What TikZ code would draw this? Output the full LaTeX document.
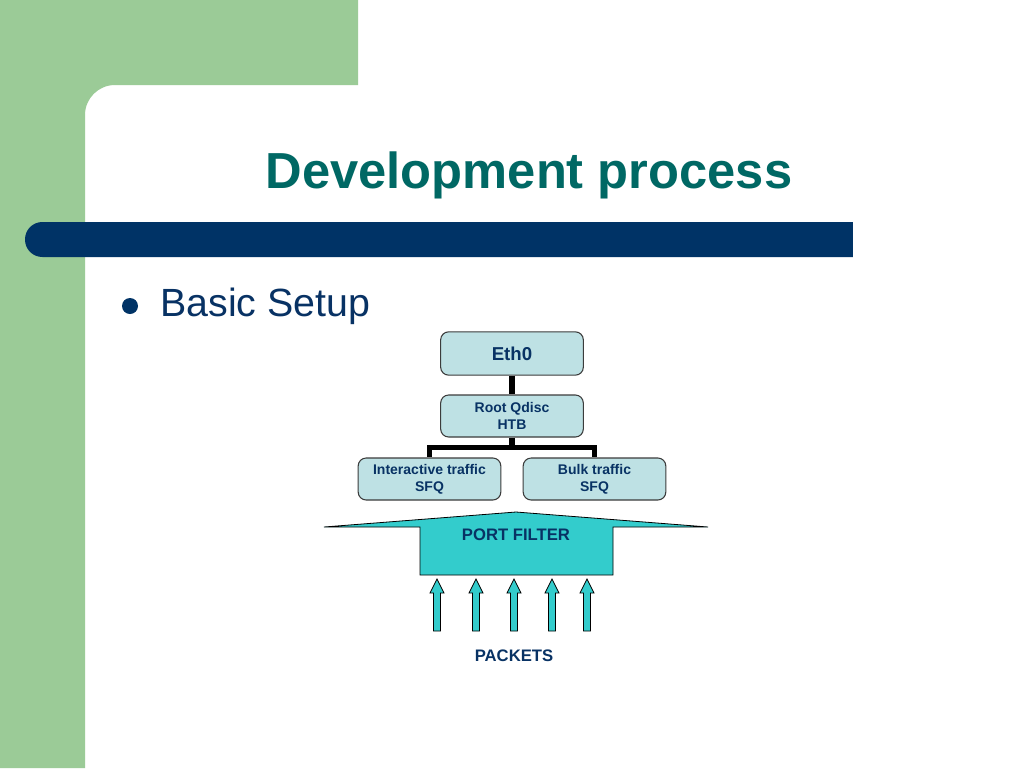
\documentclass[tikz,border=0pt]{standalone}
\usepackage{fontspec}
\setmainfont{Liberation Sans}
\usetikzlibrary{calc}
\definecolor{bggreen}{RGB}{155,203,151}
\definecolor{barnavy}{RGB}{0,51,102}
\definecolor{titleteal}{RGB}{0,104,100}
\definecolor{txtnavy}{RGB}{8,50,100}
\definecolor{boxfill}{RGB}{190,225,228}
\definecolor{turq}{RGB}{51,204,204}
\definecolor{boxline}{RGB}{60,60,60}
\tikzset{
  qbox/.style={draw=boxline, line width=0.8pt, fill=boxfill, rounded corners=6pt,
    minimum width=107pt, minimum height=31.5pt, inner sep=0pt, align=center,
    text=txtnavy, font=\bfseries\fontsize{10.5pt}{12.75pt}\selectfont},
  link/.style={draw=black, line width=4pt, line join=miter},
  blockarrow/.style={fill=turq, draw=black, line width=0.6pt},
  lbl/.style={text=txtnavy, font=\bfseries\fontsize{12.5pt}{15pt}\selectfont, inner sep=0pt}
}
\begin{document}
\begin{tikzpicture}[x=0.75pt,y=-0.75pt]
\useasboundingbox (0,0) rectangle (1024,768);
% background
\fill[white] (0,0) rectangle (1024,768);
\fill[bggreen] (0,0) -- (358,0) -- (358,85) -- (115,85)
  .. controls (98.4,85) and (85,98.4) .. (85,115) -- (85,768) -- (0,768) -- cycle;
% navy bar
\fill[barnavy, rounded corners=13pt] (25,222) rectangle (875,257);
\fill[white] (853,220) rectangle (880,259);
% title
\node[anchor=base, text=titleteal, inner sep=0pt,
  font=\bfseries\fontsize{38pt}{44pt}\selectfont] (title) at (529,188) {Development process};
% bullet
\fill[barnavy] (130,306) circle (6pt);
\node[anchor=base west, text=txtnavy, inner sep=0pt,
  font=\fontsize{29.5pt}{34pt}\selectfont] (basic) at (160,316) {Basic Setup};
% tree
\node[qbox, font=\bfseries\fontsize{14pt}{16pt}\selectfont, minimum height=32.5pt] (eth) at (512,353.5) {Eth0};
\node[qbox] (root) at (512,416) {Root Qdisc\\HTB};
\node[qbox] (inter) at (429.5,479) {Interactive traffic\\SFQ};
\node[qbox] (bulk) at (594.5,479) {Bulk traffic\\SFQ};
\draw[link, line width=5pt] (eth.south) -- (root.north);
\coordinate (split) at ($(root.south)+(0,10)$);
\draw[link] (root.south) -- (split) -| (inter.north);
\draw[link] (split) -| (bulk.north);
% port filter
\filldraw[fill=turq, draw=black, line width=0.6pt, line join=miter]
  (324,527) -- (516,512) -- (708,527) -- (613,527) -- (613,575) -- (420,575) -- (420,527) -- cycle;
\node[lbl] (pf) at (516,535) {PORT FILTER};
% packet arrows
\foreach \x in {437,476,514,552,587} {
  \filldraw[blockarrow] (\x-3.5,631) -- (\x-3.5,593) -- (\x-7,593) -- (\x,579)
    -- (\x+7,593) -- (\x+3.5,593) -- (\x+3.5,631) -- cycle;
}
\node[lbl] (packets) at (514,656) {PACKETS};
\end{tikzpicture}
\end{document}
